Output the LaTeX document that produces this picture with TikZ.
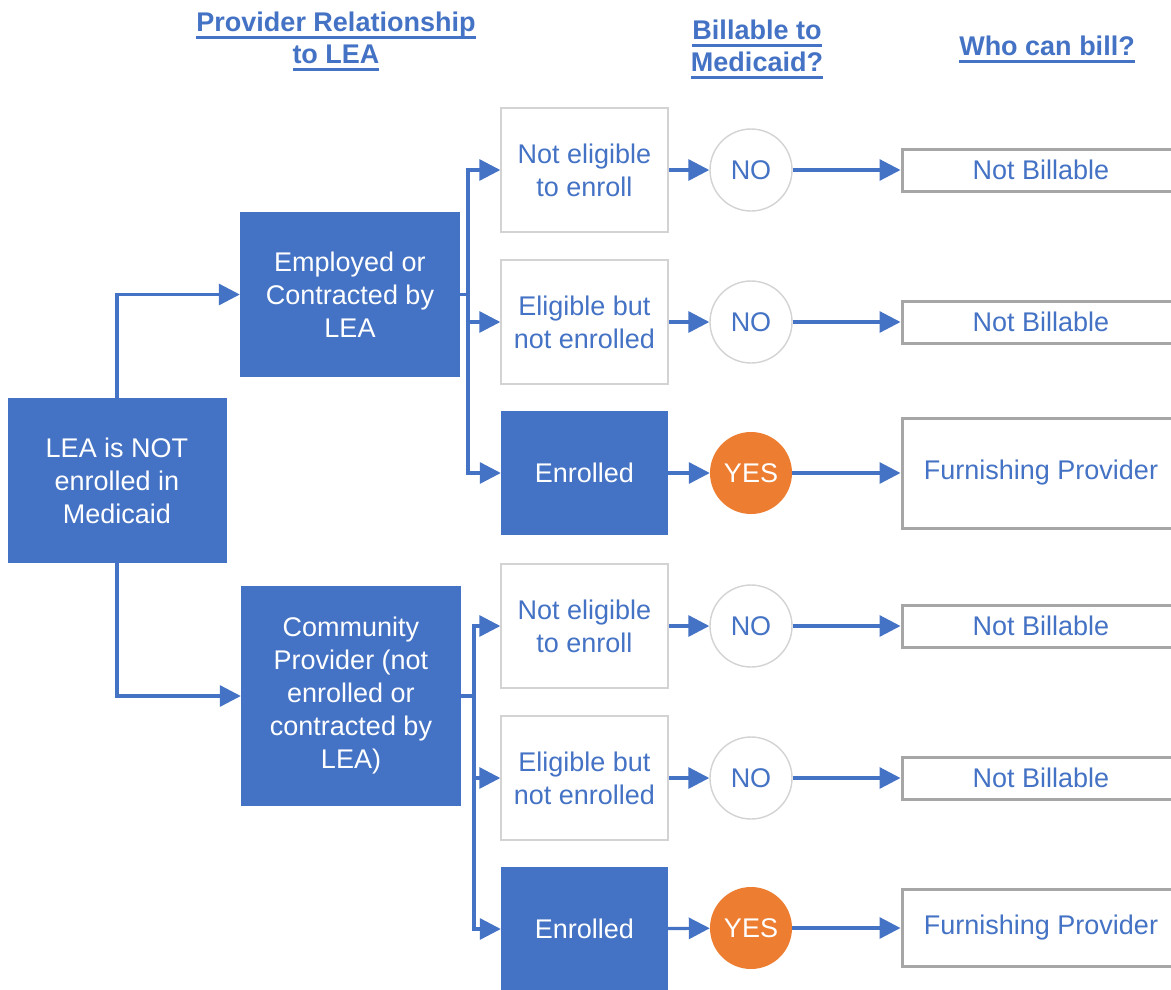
\documentclass[tikz,border=0pt]{standalone}
\usepackage{fontspec}
\setmainfont{Liberation Sans}
\usetikzlibrary{arrows.meta}
\definecolor{blu}{HTML}{4472C4}
\definecolor{org}{HTML}{ED7D31}
\definecolor{lgrey}{HTML}{D3D3D3}
\definecolor{mgrey}{HTML}{A6A6A6}
\newsavebox{\myulbox}
\newcommand\myul[1]{\sbox{\myulbox}{#1}\rlap{\raisebox{-7.5pt}{\rule{\wd\myulbox}{2.4pt}}}\usebox{\myulbox}}
\begin{document}
\begin{tikzpicture}[x=1pt,y=-1pt,
  every node/.style={font=\fontsize{27}{33}\selectfont, align=center, inner sep=0pt},
  filled/.style={fill=blu, text=white},
  plainbox/.style={draw=lgrey, line width=1.4pt, fill=white, text=blu},
  resbox/.style={draw=mgrey, line width=3pt, fill=white, text=blu, minimum width=278pt},
  nocirc/.style={circle, draw=lgrey, line width=1.4pt, fill=white, minimum size=82pt, text=blu},
  yescirc/.style={circle, fill=org, minimum size=82pt, text=white},
  col2/.style={minimum width=167pt, minimum height=124pt},
  conn/.style={draw=blu, line width=3.2pt, -{Triangle[length=21pt,width=21pt]}},
  wire/.style={draw=blu, line width=3.2pt},
  hdr/.style={font=\fontsize{27}{32}\selectfont\bfseries, text=blu}]
\clip (0,0) rectangle (1171,989);
\fill[white] (0,0) rectangle (1171,989);

% headers
\node[hdr] (h1) at (336,41) {\myul{Provider Relationship}\\\myul{to LEA}};
\node[hdr] (h2) at (757,49) {\myul{Billable to}\\\myul{Medicaid?}};
\node[hdr] (h3) at (1047,49) {\myul{Who can bill?}};

% main boxes
\node[filled, minimum width=219pt, minimum height=165pt] (lea) at (117,480.5) {LEA is NOT\\enrolled in\\Medicaid};
\node[filled, minimum width=220pt, minimum height=165pt] (emp) at (350,294.5) {Employed or\\Contracted by\\LEA};
\node[filled, minimum width=220pt, minimum height=220pt] (com) at (351,696) {Community\\Provider (not\\enrolled or\\contracted by\\LEA)};

% column 2
\node[plainbox, col2] (a1) at (584.5,170) {Not eligible\\to enroll};
\node[plainbox, col2] (a2) at (584.5,322) {Eligible but\\not enrolled};
\node[filled, col2] (a3) at (584.5,473) {Enrolled};
\node[plainbox, col2] (b1) at (584.5,626) {Not eligible\\to enroll};
\node[plainbox, col2] (b2) at (584.5,778) {Eligible but\\not enrolled};
\node[filled, col2] (b3) at (584.5,929) {Enrolled};

% circles
\node[nocirc] (c1) at (751,170) {NO};
\node[nocirc] (c2) at (751,322) {NO};
\node[yescirc] (c3) at (751,473) {YES};
\node[nocirc] (c4) at (751,626) {NO};
\node[nocirc] (c5) at (751,778) {NO};
\node[yescirc] (c6) at (751,928) {YES};

% result boxes
\node[resbox, minimum height=42pt] (r1) at (1041,170) {Not Billable};
\node[resbox, minimum height=42pt] (r2) at (1041,322) {Not Billable};
\node[resbox, minimum height=110pt] (r3) at (1041,473) {Furnishing Provider};
\node[resbox, minimum height=42pt] (r4) at (1041,626) {Not Billable};
\node[resbox, minimum height=42pt] (r5) at (1041,778) {Not Billable};
\node[resbox, minimum height=77pt] (r6) at (1041,928) {Furnishing Provider};

% connectors from LEA
\draw[conn] (lea.north) |- (emp.west);
\draw[conn] (lea.south) |- (com.west);

% employed branch
\coordinate (j1) at (468,294.5);
\draw[wire] (emp.east) -- (j1);
\draw[conn] (j1) |- (a1.west);
\draw[conn] (j1) |- (a2.west);
\draw[conn] (j1) |- (a3.west);

% community branch
\coordinate (j2) at (474,696);
\draw[wire] (com.east) -- (j2);
\draw[conn] (j2) |- (b1.west);
\draw[conn] (j2) |- (b2.west);
\draw[conn] (j2) |- (b3.west);

% to circles
\foreach \s/\t in {a1/c1,a2/c2,a3/c3,b1/c4,b2/c5,b3/c6}
  \draw[conn] (\s) -- (\t);
% to results
\foreach \s/\t in {c1/r1,c2/r2,c3/r3,c4/r4,c5/r5,c6/r6}
  \draw[conn] (\s) -- (\t);
\end{tikzpicture}
\end{document}
